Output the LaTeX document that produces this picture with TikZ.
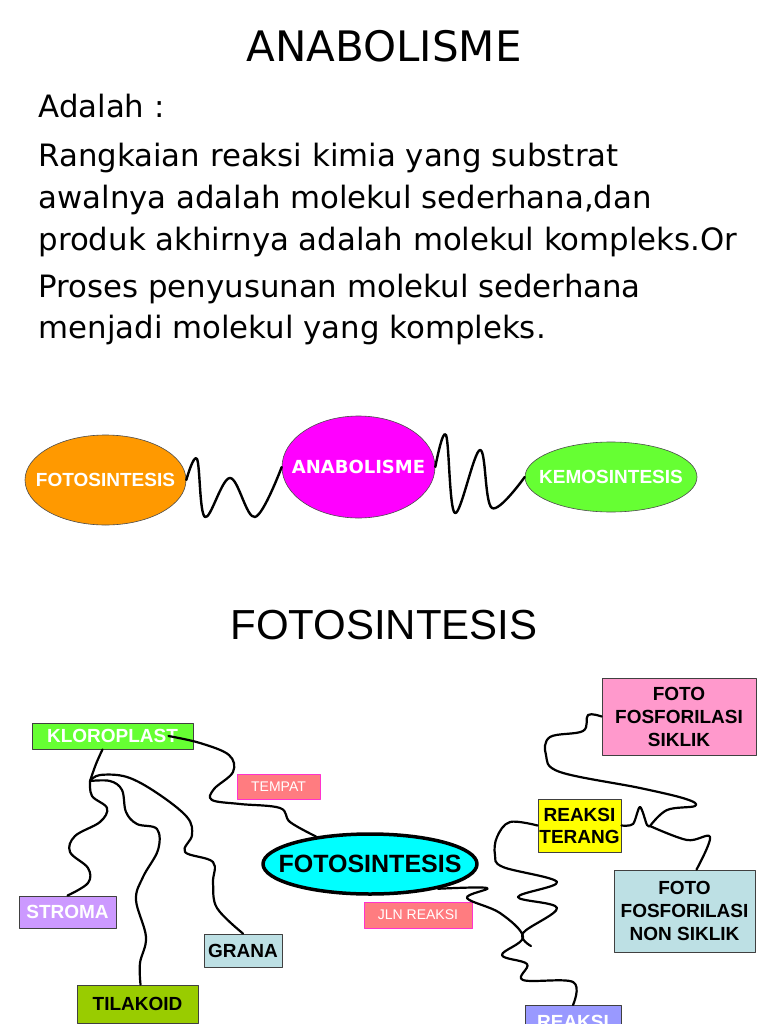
\documentclass[tikz,border=0pt]{standalone}
\usepackage{fontspec}
\setmainfont{DejaVu Sans}
\newfontfamily\arialfont{Liberation Sans}
\usetikzlibrary{shapes.geometric}
\definecolor{oranye}{HTML}{FF9900}
\definecolor{ungu}{HTML}{FF00FF}
\definecolor{hijau}{HTML}{66FF33}
\definecolor{sian}{HTML}{00FFFF}
\definecolor{salem}{HTML}{FF7C80}
\definecolor{merahmuda}{HTML}{FF33CC}
\definecolor{lavender}{HTML}{CC99FF}
\definecolor{birumuda}{HTML}{BDE0E4}
\definecolor{zaitun}{HTML}{99CC00}
\definecolor{kuning}{HTML}{FFFF00}
\definecolor{merahjambu}{HTML}{FF99CC}
\definecolor{biruungu}{HTML}{9999FF}
\begin{document}
\begin{tikzpicture}[x=1pt,y=-1pt,line join=round,line cap=round,
	kotak/.style={draw=black!75,line width=0.9pt,inner sep=0pt,align=center,font=\arialfont\bfseries\fontsize{19}{23}\selectfont},
	ket/.style={draw=merahmuda,line width=0.9pt,fill=salem,text=white,inner sep=0pt,font=\arialfont\fontsize{14}{16}\selectfont},
	oval/.style={ellipse,draw=black!70,line width=0.6pt,inner sep=0pt,text=white,font=\arialfont\bfseries\fontsize{19}{22}\selectfont},
	gelombang/.style={line width=2.4pt},
	sulur/.style={line width=2.2pt}]
			\clip (0,0) rectangle (768,1024);
			\fill[white] (0,0) rectangle (768,1024);
			% judul dan definisi
			\node[anchor=base,font=\fontsize{42}{50}\selectfont] (judul) at (384,62) {ANABOLISME};
			\node[anchor=base west,font=\fontsize{30.8}{40}\selectfont] (adalah) at (35,118) {Adalah :};
			\foreach \y/\t [count=\i] in {
				167/{Rangkaian reaksi kimia yang substrat},
				209/{awalnya adalah molekul sederhana,dan},
				250/{produk akhirnya adalah molekul kompleks.Or},
				297/{Proses penyusunan molekul sederhana},
				338/{menjadi molekul yang kompleks.}}
			{
				\node[anchor=base west,font=\fontsize{30.8}{40}\selectfont] (baris\i) at (35,\y) {\t};
			}
			% tiga oval
			\node[oval,fill=oranye,minimum width=161,minimum height=90] (foto) at (105.5,480) {\makebox[0pt]{FOTOSINTESIS}};
			\node[oval,fill=ungu,minimum width=153,minimum height=102,font=\bfseries\fontsize{18}{22}\selectfont] (anab) at (358.5,467) {\makebox[0pt]{ANABOLISME}};
			\node[oval,fill=hijau,minimum width=172,minimum height=70] (kemo) at (611,477) {\makebox[0pt]{KEMOSINTESIS}};
			\draw[gelombang] plot[smooth,tension=0.6] coordinates {(foto.east) (197,459) (205,517) (230,478) (255,517) (anab.west)};
			\draw[gelombang] plot[smooth,tension=0.6] coordinates {(anab.east) (446,435) (455,513) (480,450) (492,508) (kemo.west)};
			% peta konsep
			\node[anchor=base,font=\arialfont\fontsize{42}{50}\selectfont] (judul2) at (384,639) {FOTOSINTESIS};
			\node[kotak,fill=hijau,text=white,minimum width=161,minimum height=26] (klor) at (112.5,736) {KLOROPLAST};
			\node[ket,minimum width=83,minimum height=25] (tempat) at (278.5,786.5) {TEMPAT};
			\node[ellipse,draw,line width=3.5pt,fill=sian,inner sep=0pt,minimum width=214,minimum height=60,font=\arialfont\bfseries\fontsize{25}{30}\selectfont] (fotos) at (370,864) {\makebox[0pt]{FOTOSINTESIS}};
			\node[ket,minimum width=108,minimum height=26] (jln) at (418,915) {JLN REAKSI};
			\node[kotak,fill=lavender,text=white,minimum width=97,minimum height=32] (stroma) at (67.5,912) {STROMA};
			\node[kotak,fill=birumuda,minimum width=78,minimum height=33] (grana) at (243,950.5) {GRANA};
			\node[kotak,fill=zaitun,minimum width=121,minimum height=38] (tilakoid) at (137.5,1004) {TILAKOID};
			\node[kotak,fill=kuning,minimum width=83,minimum height=53,font=\arialfont\bfseries\fontsize{19}{22}\selectfont] (terang) at (579.5,825.5) {REAKSI\\TERANG};
			\node[kotak,fill=merahjambu,minimum width=154,minimum height=77] (siklik) at (679,716.5) {FOTO\\FOSFORILASI\\SIKLIK};
			\node[kotak,fill=birumuda,minimum width=141,minimum height=82] (nonsiklik) at (684.5,911) {FOTO\\FOSFORILASI\\NON SIKLIK};
			\node[kotak,fill=biruungu,text=white,minimum width=96,minimum height=50,anchor=north,text depth=18pt] (reaksi) at (573,1005) {REAKSI};
			\coordinate (j) at (90,781);
			\coordinate (k) at (650,826);
			\coordinate (ujung) at (531,946);
			% sulur kiri
			\draw[sulur] plot[smooth,tension=0.6] coordinates {([xshift=-25pt]klor.east) (200,743) (229,755) (233,772) (214,789) (212,800) (240,804) (280,808) (290,822) (fotos.153)};
			\draw[sulur] plot[smooth,tension=0.6] coordinates {([xshift=-10pt]klor.south) (96,764) (j)};
			\draw[sulur] plot[smooth,tension=0.6] coordinates {(j) (92,796) (107,808) (100,822) (75,836) (70,852) (88,868) (88,883) (stroma.north)};
			\draw[sulur] plot[smooth,tension=0.6] coordinates {(j) (110,781) (122,790) (126,812) (137,824) (157,829) (158,850) (143,877) (136,900) (146,937) (140,963) ([xshift=3pt]tilakoid.north)};
			\draw[sulur] plot[smooth,tension=0.6] coordinates {(j) (100,775) (127,777) (157,793) (187,817) (192,835) (185,852) (213,862) (213,883) (217,908) (grana.north)};
			% sulur kanan
			\draw[sulur] plot[smooth,tension=0.6] coordinates {(terang.west) (510,822) (497,837) (495,855) (503,867) (557,882) (518,897) (557,908) (523,933) (ujung)};
			\draw[sulur] plot[smooth,tension=0.6] coordinates {(fotos.-20) (487,888) (467,898) (500,913) (523,937) (502,955) (527,964) (523,980) (573,982) (reaksi.north)};
			\draw[sulur] plot[smooth,tension=0.5] coordinates {(terang.east) (633,824) (640,807) (647,825) (k)};
			\draw[sulur] plot[smooth,tension=0.6] coordinates {(k) (667,810) (695,806) (686,799) (640,788) (560,772) (546,755) (550,737) (583,731) (588,715) (siklik.west)};
			\draw[sulur] plot[smooth,tension=0.6] coordinates {(k) (687,840) (710,837) ([xshift=12pt]nonsiklik.north)};
		\end{tikzpicture}
\end{document}
